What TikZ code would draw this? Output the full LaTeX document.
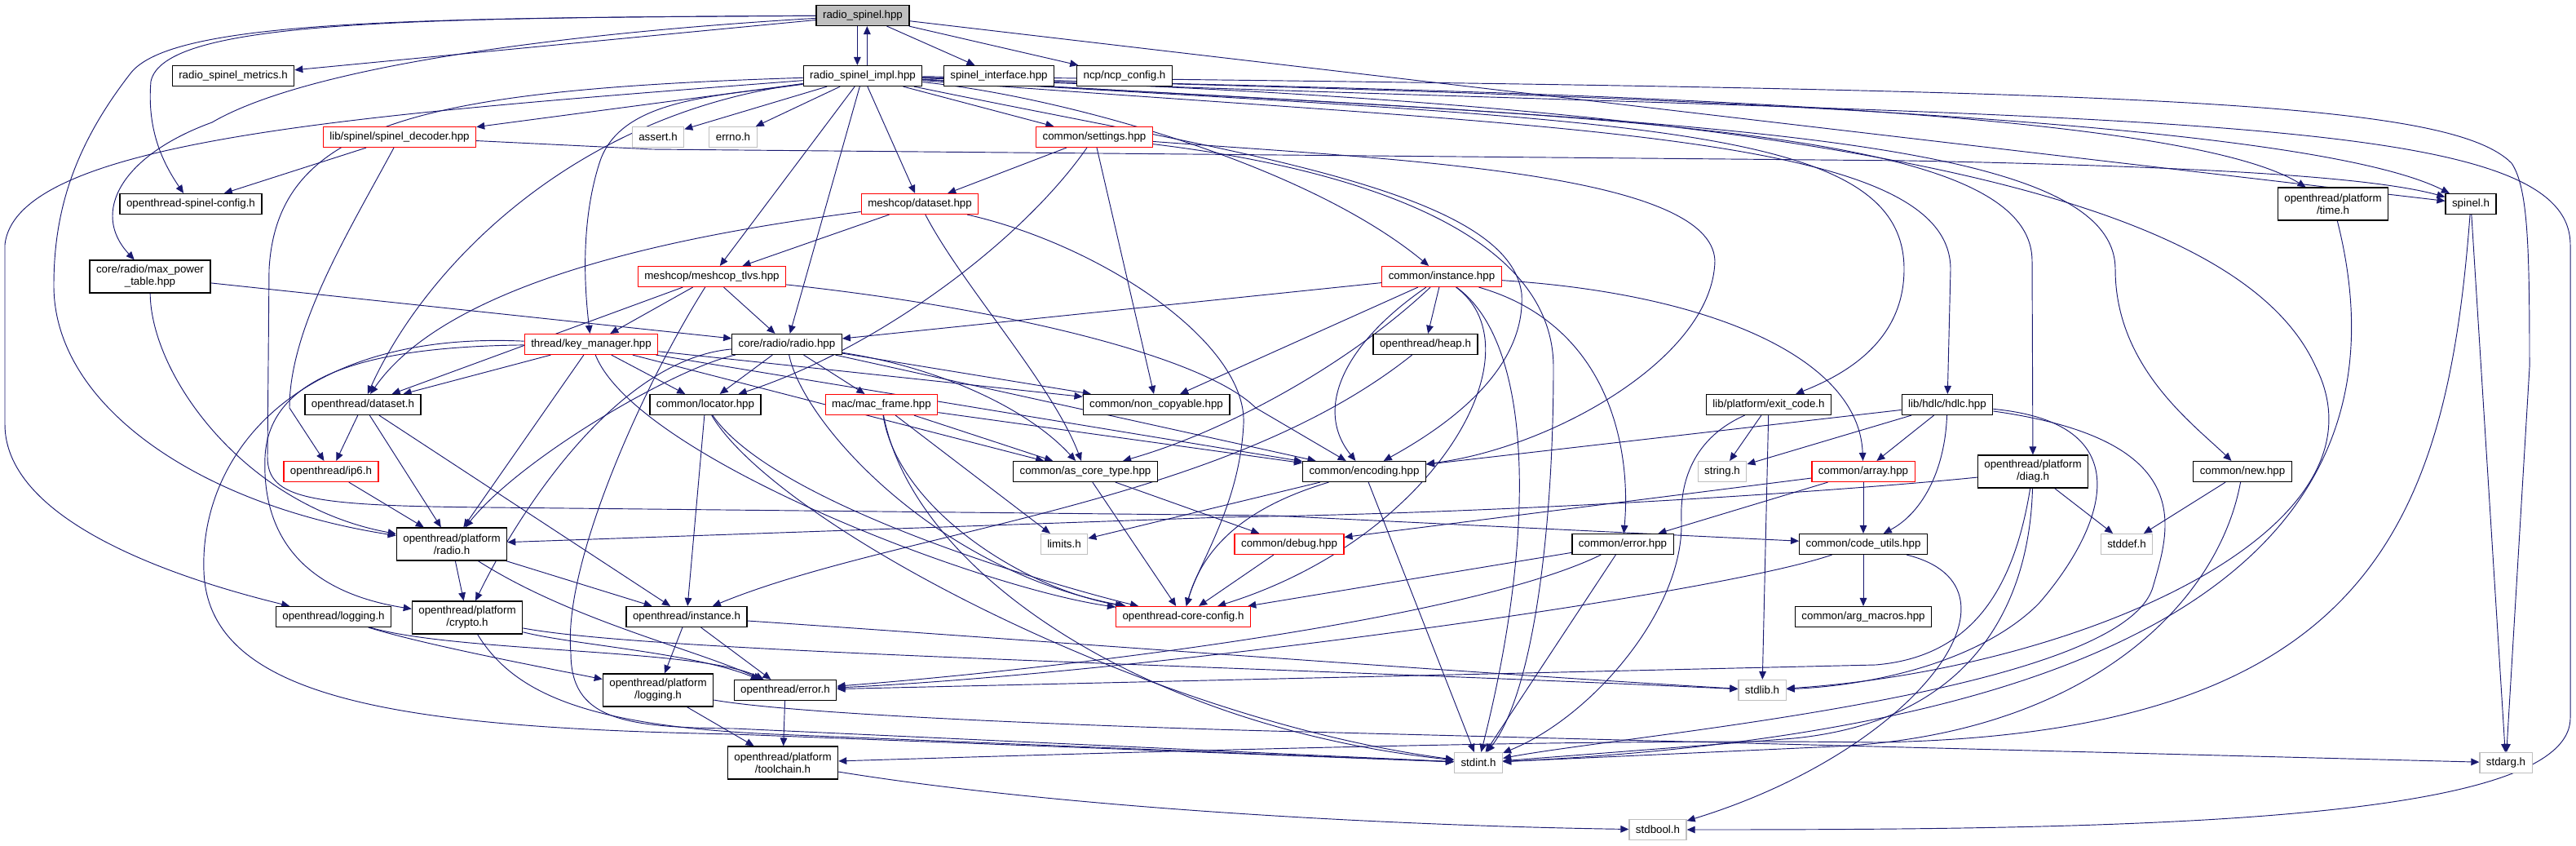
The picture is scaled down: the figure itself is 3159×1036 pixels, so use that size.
\documentclass[tikz,border=0pt]{standalone}
\usepackage{fontspec}
\setmainfont{Liberation Sans}
\usetikzlibrary{arrows.meta}
\definecolor{edgeblue}{RGB}{25,25,112}
\definecolor{sysgray}{RGB}{191,191,191}
\definecolor{topgray}{RGB}{191,191,191}
\pgfdeclarelayer{background}
\pgfsetlayers{background,main}
\tikzset{
  hdr/.style={rectangle, draw=black, fill=white, line width=0.9pt,
    inner xsep=6pt, inner ysep=2pt, minimum height=18.75pt, align=center,
    font=\fontsize{10pt}{11.25pt}\selectfont},
  redhdr/.style={hdr, draw=red},
  syshdr/.style={hdr, draw=sysgray},
  tophdr/.style={hdr, fill=topgray},
  twoline/.style={minimum height=30pt},
  inc/.style={draw=edgeblue, line width=0.7pt, -{Triangle[length=7.5pt, width=6.5pt]}}
}

\begin{document}
\begin{tikzpicture}[x=0.75pt, y=-0.75pt]
  \useasboundingbox (0,0) rectangle (3159,1036);

  % headers, top to bottom
  \node[tophdr] (rs) at (1058,19) {radio\_spinel.hpp};
  \node[hdr] (metrics) at (286,93) {radio\_spinel\_metrics.h};
  \node[hdr] (impl) at (1058,93) {radio\_spinel\_impl.hpp};
  \node[hdr] (spinelif) at (1225,93) {spinel\_interface.hpp};
  \node[hdr] (ncpcfg) at (1379,93) {ncp/ncp\_config.h};
  \node[redhdr] (decoder) at (490,168) {lib/spinel/spinel\_decoder.hpp};
  \node[syshdr] (assert) at (807,168) {assert.h};
  \node[syshdr] (errno) at (899,168) {errno.h};
  \node[redhdr] (settings) at (1342,168) {common/settings.hpp};
  \node[hdr] (spcfg) at (234,250) {openthread-spinel-config.h};
  \node[redhdr] (mdataset) at (1128,250) {meshcop/dataset.hpp};
  \node[hdr, twoline] (timeh) at (2861,250) {openthread/platform\\/time.h};
  \node[hdr] (spinelh) at (3030,250) {spinel.h};
  \node[hdr, twoline] (maxpow) at (184,339) {core/radio/max\_power\\\_table.hpp};
  \node[redhdr] (tlvs) at (873,339) {meshcop/meshcop\_tlvs.hpp};
  \node[redhdr] (insthpp) at (1768,339) {common/instance.hpp};
  \node[redhdr] (keymgr) at (725,422) {thread/key\_manager.hpp};
  \node[hdr] (radiohpp) at (965,422) {core/radio/radio.hpp};
  \node[hdr] (heap) at (1748,422) {openthread/heap.h};
  \node[hdr] (otdataset) at (445,496) {openthread/dataset.h};
  \node[hdr] (locator) at (865,496) {common/locator.hpp};
  \node[redhdr] (macframe) at (1081,496) {mac/mac\_frame.hpp};
  \node[hdr] (noncopy) at (1418,496) {common/non\_copyable.hpp};
  \node[hdr] (exitcode) at (2169,496) {lib/platform/exit\_code.h};
  \node[hdr] (hdlc) at (2388,496) {lib/hdlc/hdlc.hpp};
  \node[redhdr] (ip6) at (406,578) {openthread/ip6.h};
  \node[hdr] (ascore) at (1331,578) {common/as\_core\_type.hpp};
  \node[hdr] (encoding) at (1673,578) {common/encoding.hpp};
  \node[syshdr] (string) at (2112,578) {string.h};
  \node[redhdr] (array) at (2285,578) {common/array.hpp};
  \node[hdr, twoline] (diag) at (2493,578) {openthread/platform\\/diag.h};
  \node[hdr] (newhpp) at (2750,578) {common/new.hpp};
  \node[hdr, twoline] (platradio) at (554,667) {openthread/platform\\/radio.h};
  \node[syshdr] (limits) at (1305,667) {limits.h};
  \node[redhdr] (debug) at (1581,667) {common/debug.hpp};
  \node[hdr] (errorhpp) at (1990,667) {common/error.hpp};
  \node[hdr] (codeutils) at (2285,667) {common/code\_utils.hpp};
  \node[syshdr] (stddef) at (2608,667) {stddef.h};
  \node[hdr] (otlogging) at (409,756) {openthread/logging.h};
  \node[hdr, twoline] (crypto) at (573,757) {openthread/platform\\/crypto.h};
  \node[hdr] (otinstance) at (842,756) {openthread/instance.h};
  \node[redhdr] (coreconfig) at (1451,756) {openthread-core-config.h};
  \node[hdr] (argmacros) at (2285,756) {common/arg\_macros.hpp};
  \node[hdr, twoline] (pllogging) at (807,846) {openthread/platform\\/logging.h};
  \node[hdr] (oterror) at (963,846) {openthread/error.h};
  \node[syshdr] (stdlib) at (2161,846) {stdlib.h};
  \node[hdr, twoline] (toolchain) at (960,935) {openthread/platform\\/toolchain.h};
  \node[syshdr] (stdint) at (1813,935) {stdint.h};
  \node[syshdr] (stdarg) at (3073,935) {stdarg.h};
  \node[syshdr] (stdbool) at (2033,1017) {stdbool.h};

  \begin{pgfonlayer}{background}
  % radio_spinel.hpp
  \draw[inc] ([xshift=-5pt]rs.south) -- ([xshift=-5pt]impl.north);
  \draw[inc] ([xshift=4pt]impl.north) -- ([xshift=4pt]rs.south);
  \foreach \dst in {metrics,spinelif,ncpcfg,spinelh} \draw[inc] (rs) -- (\dst);
  \draw[inc] (rs) .. controls (500,22) and (200,25) .. (185,100) .. controls (180,160) and (200,200) .. (spcfg);
  \draw[inc] (rs) .. controls (700,40) and (380,80) .. (260,150) .. controls (150,190) and (110,260) .. (maxpow);
  \draw[inc] (rs) .. controls (500,22) and (210,25) .. (160,90) .. controls (90,180) and (66,260) .. (66,350) .. controls (66,500) and (250,620) .. (platradio);

  % radio_spinel_impl.hpp
  \foreach \dst in {decoder,assert,errno,settings,mdataset,tlvs,radiohpp} \draw[inc] (impl) -- (\dst);
  \draw[inc] (impl) .. controls (880,118) and (760,120) .. (735,200) .. controls (716,260) and (714,330) .. (keymgr);
  \draw[inc] (impl) .. controls (700,140) and (520,330) .. (otdataset);
  \draw[inc] (impl) .. controls (450,140) and (20,170) .. (6,300) -- (6,520) .. controls (6,640) and (220,710) .. (otlogging);
  \draw[inc] (impl) .. controls (520,110) and (340,150) .. (330,330) -- (328,560) .. controls (328,612) and (380,620) .. (600,622) -- (1560,632) -- (codeutils);
  \draw[inc] (impl) .. controls (1300,118) and (1600,200) .. (insthpp);
  \draw[inc] (impl) .. controls (1500,185) and (1850,230) .. (1866,360) .. controls (1872,460) and (1760,530) .. (encoding);
  \draw[inc] (impl) .. controls (1700,110) and (2650,120) .. (timeh);
  \draw[inc] (impl) .. controls (1800,112) and (2800,135) .. (spinelh);
  \draw[inc] (impl) .. controls (2000,150) and (2335,150) .. (2335,330) .. controls (2335,420) and (2260,460) .. (exitcode);
  \draw[inc] (impl) .. controls (1900,158) and (2392,160) .. (2392,330) -- (hdlc);
  \draw[inc] (impl) .. controls (1950,145) and (2492,150) .. (2492,320) -- (diag);
  \draw[inc] (impl) .. controls (2050,150) and (2594,160) .. (2594,330) .. controls (2594,450) and (2690,520) .. (newhpp);
  \draw[inc] (impl) .. controls (2300,130) and (2750,250) .. (2840,450) .. controls (2940,650) and (2550,820) .. (stdlib);
  \draw[inc] (impl) .. controls (2600,110) and (3000,120) .. (3080,200) .. controls (3100,230) and (3102,300) .. (3102,450) -- (stdarg);
  \draw[inc] (impl) .. controls (2600,150) and (3152,130) .. (3152,300) -- (3152,880) .. controls (3152,1010) and (2600,1017) .. (stdbool);

  % lib/spinel/spinel_decoder.hpp
  \draw[inc] (decoder) -- (spcfg);
  \draw[inc] (decoder) .. controls (430,280) and (355,400) .. (355,500) -- (ip6);
  \draw[inc] (decoder) -- (800,183) -- (2340,197) .. controls (2750,205) and (2920,220) .. (spinelh);

  % common/settings.hpp
  \draw[inc] (settings) -- (mdataset);
  \draw[inc] (settings) -- (noncopy);
  \draw[inc] (settings) .. controls (1250,300) and (1070,430) .. (locator);
  \draw[inc] (settings) .. controls (1700,195) and (2100,210) .. (2103,320) .. controls (2100,440) and (1900,550) .. (encoding);
  \draw[inc] (settings) .. controls (1650,205) and (1905,280) .. (1905,450) .. controls (1905,650) and (1880,850) .. (stdint);

  % meshcop/dataset.hpp
  \draw[inc] (mdataset) -- (tlvs);
  \draw[inc] (mdataset) .. controls (900,280) and (560,330) .. (otdataset);
  \draw[inc] (mdataset) .. controls (1180,350) and (1290,470) .. (ascore);
  \draw[inc] (mdataset) .. controls (1350,300) and (1530,420) .. (1525,520) .. controls (1520,620) and (1470,690) .. (coreconfig);

  % core/radio/max_power_table.hpp
  \draw[inc] (maxpow) -- (radiohpp);
  \draw[inc] (maxpow) .. controls (185,460) and (300,620) .. (platradio);

  % meshcop/meshcop_tlvs.hpp
  \foreach \dst in {keymgr,radiohpp,otdataset} \draw[inc] (tlvs) -- (\dst);
  \draw[inc] (tlvs) .. controls (1250,380) and (1480,440) .. (1540,500) -- (encoding);
  \draw[inc] (tlvs) .. controls (790,470) and (690,690) .. (700,800) .. controls (700,880) and (760,892) .. (900,893) -- (stdint);

  % thread/key_manager.hpp
  \foreach \dst in {otdataset,locator,noncopy,encoding,ascore,platradio} \draw[inc] (keymgr) -- (\dst);
  \draw[inc] (keymgr) .. controls (360,405) and (245,560) .. (250,700) .. controls (255,860) and (500,892) .. (900,900) -- (stdint);
  \draw[inc] (keymgr) .. controls (450,425) and (330,460) .. (325,560) .. controls (320,680) and (400,730) .. (crypto);
  \draw[inc] (keymgr) .. controls (780,560) and (1200,720) .. (coreconfig);

  % core/radio/radio.hpp
  \foreach \dst in {locator,macframe,noncopy,encoding} \draw[inc] (radiohpp) -- (\dst);
  \draw[inc] (radiohpp) .. controls (1150,450) and (1260,500) .. (ascore);
  \draw[inc] (radiohpp) .. controls (830,450) and (640,560) .. (platradio);
  \draw[inc] (radiohpp) .. controls (760,440) and (640,620) .. (crypto);
  \draw[inc] (radiohpp) .. controls (985,520) and (1150,700) .. (coreconfig);

  % common/instance.hpp
  \foreach \dst in {radiohpp,heap,noncopy} \draw[inc] (insthpp) -- (\dst);
  \draw[inc] (insthpp) .. controls (1650,450) and (1500,530) .. (ascore);
  \draw[inc] (insthpp) .. controls (1650,420) and (1610,500) .. (encoding);
  \draw[inc] (insthpp) .. controls (2100,360) and (2280,440) .. (array);
  \draw[inc] (insthpp) .. controls (1980,400) and (2000,560) .. (errorhpp);
  \draw[inc] (insthpp) .. controls (1890,430) and (1760,660) .. (coreconfig);
  \draw[inc] (insthpp) .. controls (1880,420) and (1885,650) .. (stdint);

  % openthread/heap.h, common/locator.hpp, mac/mac_frame.hpp
  \draw[inc] (heap) .. controls (1500,620) and (1100,650) .. (otinstance);
  \draw[inc] (locator) -- (otinstance);
  \draw[inc] (locator) .. controls (950,620) and (1300,720) .. (coreconfig);
  \draw[inc] (locator) .. controls (950,640) and (1400,880) .. (stdint);
  \foreach \dst in {ascore,encoding,limits} \draw[inc] (macframe) -- (\dst);
  \draw[inc] (macframe) .. controls (1100,620) and (1250,720) .. (coreconfig);
  \draw[inc] (macframe) .. controls (1120,700) and (1400,890) .. (stdint);

  % common/as_core_type.hpp, common/debug.hpp, common/encoding.hpp
  \draw[inc] (ascore) -- (debug);
  \draw[inc] (ascore) -- (coreconfig);
  \draw[inc] (debug) -- (coreconfig);
  \draw[inc] (encoding) -- (limits);
  \draw[inc] (encoding) -- (stdint);
  \draw[inc] (encoding) .. controls (1550,615) and (1480,655) .. (coreconfig);

  % lib/platform/exit_code.h, lib/hdlc/hdlc.hpp
  \draw[inc] (exitcode) -- (string);
  \draw[inc] (exitcode) -- (stdlib);
  \draw[inc] (exitcode) .. controls (2070,540) and (2060,600) .. (2062,640) .. controls (2064,750) and (1950,880) .. (stdint);
  \foreach \dst in {string,array,encoding} \draw[inc] (hdlc) -- (\dst);
  \draw[inc] (hdlc) .. controls (2385,580) and (2355,630) .. (codeutils);
  \draw[inc] (hdlc) .. controls (2640,520) and (2570,660) .. (2500,740) .. controls (2430,810) and (2300,840) .. (stdlib);
  \draw[inc] (hdlc) .. controls (2700,540) and (2660,650) .. (2640,720) .. controls (2600,850) and (2000,900) .. (stdint);

  % common/array.hpp, openthread/platform/diag.h, common/new.hpp
  \foreach \dst in {codeutils,debug,errorhpp} \draw[inc] (array) -- (\dst);
  \draw[inc] (diag) -- (stddef);
  \draw[inc] (diag) .. controls (2300,598) and (1900,628) .. (1500,634) -- (platradio);
  \draw[inc] (diag) .. controls (2470,720) and (2420,805) .. (2300,815) -- (oterror);
  \draw[inc] (diag) .. controls (2490,700) and (2450,880) .. (2200,905) -- (stdint);
  \draw[inc] (newhpp) -- (stddef);
  \draw[inc] (newhpp) .. controls (2720,740) and (2560,900) .. (2250,915) -- (stdint);

  % openthread/platform/time.h, spinel.h
  \draw[inc] (timeh) .. controls (2950,600) and (2750,890) .. (stdint);
  \draw[inc] (spinelh) -- (stdarg);
  \draw[inc] (spinelh) .. controls (3000,650) and (2900,900) .. (2300,910) .. controls (1950,905) and (1450,920) .. (toolchain);

  % openthread public headers
  \draw[inc] (otdataset) -- (ip6);
  \draw[inc] (otdataset) -- (platradio);
  \draw[inc] (otdataset) -- (otinstance);
  \draw[inc] (ip6) -- (platradio);
  \draw[inc] (platradio) -- (crypto);
  \draw[inc] (platradio) -- (otinstance);
  \draw[inc] (platradio) .. controls (700,760) and (850,795) .. (oterror);
  \draw[inc] (otlogging) .. controls (520,790) and (650,815) .. (pllogging);
  \draw[inc] (otlogging) .. controls (560,800) and (860,795) .. (oterror);
  \draw[inc] (crypto) .. controls (700,790) and (850,800) .. (oterror);
  \draw[inc] (crypto) .. controls (800,800) and (1500,815) .. (stdlib);
  \draw[inc] (crypto) .. controls (630,850) and (720,890) .. (950,900) -- (stdint);
  \draw[inc] (otinstance) -- (pllogging);
  \draw[inc] (otinstance) -- (oterror);
  \draw[inc] (otinstance) .. controls (1200,780) and (1800,825) .. (stdlib);
  \draw[inc] (pllogging) -- (toolchain);
  \draw[inc] (pllogging) .. controls (1000,880) and (1500,895) .. (1600,897) -- (stdarg);
  \draw[inc] (oterror) -- (toolchain);
  \draw[inc] (toolchain) .. controls (1300,990) and (1700,1012) .. (stdbool);

  % common/error.hpp, common/code_utils.hpp
  \draw[inc] (errorhpp) -- (stdint);
  \draw[inc] (errorhpp) -- (coreconfig);
  \draw[inc] (errorhpp) .. controls (1800,760) and (1300,820) .. (oterror);
  \draw[inc] (codeutils) -- (argmacros);
  \draw[inc] (codeutils) .. controls (2100,730) and (1400,825) .. (oterror);
  \draw[inc] (codeutils) .. controls (2500,720) and (2350,920) .. (stdbool);
  \end{pgfonlayer}
\end{tikzpicture}
\end{document}
